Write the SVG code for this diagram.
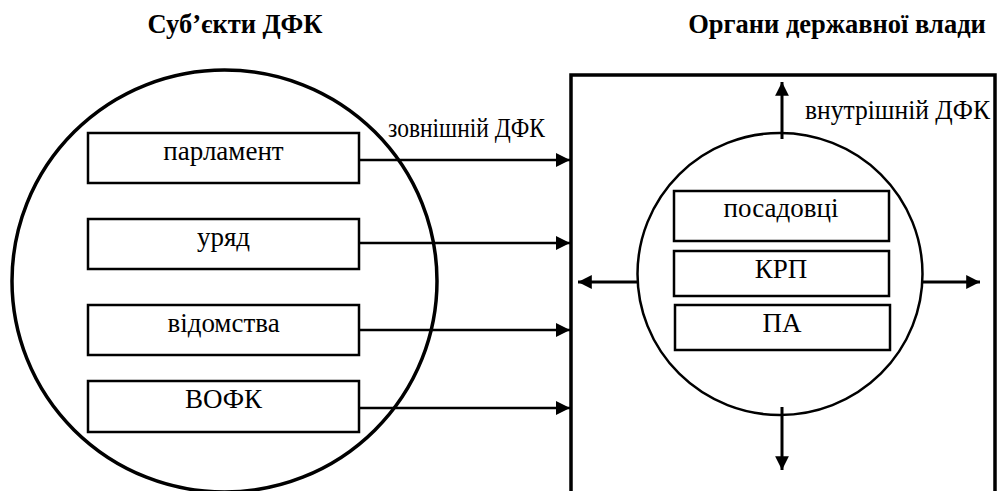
<svg xmlns="http://www.w3.org/2000/svg" width="997" height="491" viewBox="0 0 997 491" font-family="Liberation Serif">
  <style>
    .title { font-size: 26.5px; font-weight: bold; text-anchor: middle; }
    .label { font-size: 27px; text-anchor: middle; }
    .note { font-size: 27px; }
    .box { fill: #fff; stroke: #000; stroke-width: 2.5; }
    .ring { fill: none; stroke: #000; }
    .flow { stroke: #000; stroke-width: 2.5; fill: none; }
    .flow-in { stroke: #000; stroke-width: 3; fill: none; }
  </style>
  <defs>
    <marker id="head" viewBox="0 0 10 10" refX="10" refY="5" markerWidth="6" markerHeight="5.6" markerUnits="strokeWidth" orient="auto">
      <path d="M0,0 L10,5 L0,10 Z" fill="#000"/>
    </marker>
    <marker id="head-in" viewBox="0 0 10 10" refX="10" refY="5" markerWidth="5" markerHeight="4.6" markerUnits="strokeWidth" orient="auto">
      <path d="M0,0 L10,5 L0,10 Z" fill="#000"/>
    </marker>
  </defs>

  <rect width="997" height="491" fill="#fff"/>

  <!-- column headings -->
  <text class="title" x="235" y="33">Суб’єкти ДФК</text>
  <text class="title" x="837" y="33">Органи державної влади</text>

  <!-- flow labels -->
  <text class="note" x="388" y="137" textLength="157" lengthAdjust="spacingAndGlyphs">зовнішній ДФК</text>
  <text class="note" x="805" y="119" textLength="185" lengthAdjust="spacingAndGlyphs">внутрішній ДФК</text>

  <!-- subjects of control -->
  <g id="subjects">
    <ellipse class="ring" cx="224.5" cy="281" rx="212.5" ry="211" stroke-width="3.5"/>
  </g>
  <g id="parliament">
    <rect class="box" x="88" y="133" width="271" height="50"/>
    <text class="label" x="223.5" y="160">парламент</text>
  </g>
  <g id="government">
    <rect class="box" x="88" y="219" width="271" height="50"/>
    <text class="label" x="223.5" y="246">уряд</text>
  </g>
  <g id="departments">
    <rect class="box" x="88" y="305" width="271" height="50"/>
    <text class="label" x="223.5" y="332">відомства</text>
  </g>
  <g id="vofk">
    <rect class="box" x="88" y="381" width="271" height="51"/>
    <text class="label" x="223.5" y="408">ВОФК</text>
  </g>

  <!-- state authorities -->
  <g id="authorities">
    <path d="M571,495 L571,75 L995,75 L995,495" fill="none" stroke="#000" stroke-width="3.5"/>
  </g>
  <g id="inner-circle">
    <ellipse class="ring" cx="780" cy="274" rx="142.5" ry="141" stroke-width="2.5"/>
  </g>
  <g id="officials">
    <rect class="box" x="674" y="191" width="215" height="50"/>
    <text class="label" x="781" y="217">посадовці</text>
  </g>
  <g id="krp">
    <rect class="box" x="674" y="251" width="215" height="45"/>
    <text class="label" x="781" y="278">КРП</text>
  </g>
  <g id="pa">
    <rect class="box" x="675" y="305" width="215" height="45"/>
    <text class="label" x="782" y="332">ПА</text>
  </g>

  <!-- connectors -->
  <g id="connectors">
    <line class="flow" x1="359" y1="160" x2="570" y2="160" marker-end="url(#head)"/>
    <line class="flow" x1="359" y1="243" x2="570" y2="243" marker-end="url(#head)"/>
    <line class="flow" x1="359" y1="330" x2="570" y2="330" marker-end="url(#head)"/>
    <line class="flow" x1="359" y1="408" x2="570" y2="408" marker-end="url(#head)"/>
    <line class="flow-in" x1="782" y1="139" x2="782" y2="82" marker-end="url(#head-in)"/>
    <line class="flow-in" x1="638" y1="282" x2="578" y2="282" marker-end="url(#head-in)"/>
    <line class="flow-in" x1="922" y1="282" x2="980" y2="282" marker-end="url(#head-in)"/>
    <line class="flow-in" x1="782" y1="407" x2="782" y2="470" marker-end="url(#head-in)"/>
  </g>
</svg>
